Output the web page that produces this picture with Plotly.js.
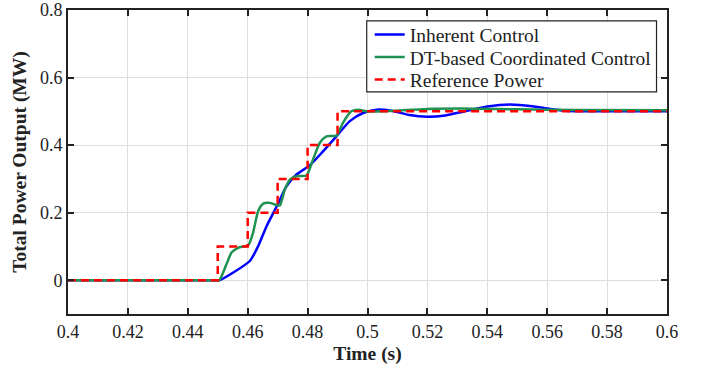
<!DOCTYPE html>
<html><head><meta charset="utf-8">
<script src="https://cdn.plot.ly/plotly-3.0.1.min.js"></script>
<style>html,body{margin:0;padding:0;background:#fff;}#chart{width:702px;height:371px;}</style>
</head><body><div id="chart"></div>
<script>
const inherentT = [0.4, 0.43, 0.449, 0.4505, 0.4552, 0.4607, 0.4635, 0.4663, 0.470, 0.473, 0.4763, 0.4807, 0.4852, 0.4896, 0.4941, 0.4985, 0.503, 0.508, 0.514, 0.52, 0.526, 0.532, 0.54, 0.5475, 0.555, 0.561, 0.567, 0.575, 0.585, 0.6];
const inherentP = [0, 0, 0, 0, 0.023, 0.057, 0.101, 0.160, 0.224, 0.279, 0.313, 0.340, 0.382, 0.426, 0.471, 0.495, 0.505, 0.502, 0.489, 0.484, 0.488, 0.499, 0.514, 0.520, 0.515, 0.507, 0.501, 0.5, 0.5, 0.5];
const dtT = [0.4, 0.43, 0.449, 0.4505, 0.4529, 0.4546, 0.4568, 0.4602, 0.4618, 0.4635, 0.4652, 0.4674, 0.4691, 0.4707, 0.4724, 0.4741, 0.4763, 0.4796, 0.4818, 0.4841, 0.4863, 0.4896, 0.4918, 0.4946, 0.4969, 0.4996, 0.505, 0.52, 0.535, 0.55, 0.57, 0.6];
const dtP = [0, 0, 0, 0, 0.047, 0.082, 0.096, 0.104, 0.141, 0.205, 0.227, 0.229, 0.224, 0.221, 0.269, 0.298, 0.308, 0.310, 0.357, 0.407, 0.426, 0.428, 0.466, 0.500, 0.505, 0.500, 0.500, 0.507, 0.508, 0.506, 0.504, 0.503];
const refT = [0.4, 0.45, 0.46, 0.47, 0.48, 0.49, 0.6];
const refP = [0, 0.1, 0.2, 0.3, 0.4, 0.5, 0.5];
const xTicks = [0.4, 0.42, 0.44, 0.46, 0.48, 0.5, 0.52, 0.54, 0.56, 0.58, 0.6];
const xTickText = ['0.4', '0.42', '0.44', '0.46', '0.48', '0.5', '0.52', '0.54', '0.56', '0.58', '0.6'];
const yTicks = [0, 0.2, 0.4, 0.6, 0.8];
const yTickText = ['0', '0.2', '0.4', '0.6', '0.8'];

const font = '"Liberation Serif", "Times New Roman", Times, serif';
const traces = [
  {x: inherentT, y: inherentP, type: 'scatter', mode: 'lines', name: 'Inherent Control', legend: 'legend',
   line: {color: '#0000ff', width: 2.5, shape: 'spline', smoothing: 0.6}},
  {x: dtT, y: dtP, type: 'scatter', mode: 'lines', name: 'DT-based Coordinated Control', legend: 'legend2',
   line: {color: '#1f9150', width: 2.5, shape: 'spline', smoothing: 0.6}},
  {x: refT, y: refP, type: 'scatter', mode: 'lines', name: 'Reference Power', legend: 'legend3',
   line: {color: '#ff0000', width: 2.5, shape: 'hv', dash: '8px,5px'}}
];
const axisCommon = {
  showline: true, mirror: 'ticks', linecolor: '#222', linewidth: 2,
  ticks: 'inside', ticklen: 6, tickwidth: 2, tickcolor: '#222',
  showgrid: true, gridcolor: '#dedede', gridwidth: 1, zeroline: false,
  tickfont: {family: font, size: 18, color: '#222'}
};
function leg(yc) {
  return {x: 0.5037, xanchor: 'left', y: yc, yanchor: 'middle',
    bgcolor: 'rgba(0,0,0,0)', borderwidth: 0,
    font: {family: font, size: 19.5, color: '#222'}};
}
const layout = {
  width: 702, height: 371,
  margin: {l: 68, r: 34.5, t: 10, b: 56.5},
  paper_bgcolor: '#fff', plot_bgcolor: '#fff',
  font: {family: font, color: '#222'},
  showlegend: true,
  legend: leg(0.918), legend2: leg(0.844), legend3: leg(0.770),
  shapes: [{type: 'rect', xref: 'paper', yref: 'paper', x0: 0.4987, x1: 0.9825, y0: 0.7307, y1: 0.9639,
    fillcolor: '#fff', line: {color: '#222', width: 1.2}, layer: 'above'}],
  xaxis: Object.assign({}, axisCommon, {
    range: [0.4, 0.6], tickmode: 'array', tickvals: xTicks, ticktext: xTickText,
    title: {text: '<b>Time (s)</b>', font: {family: font, size: 19.5, color: '#222'}, standoff: 6}
  }),
  yaxis: Object.assign({}, axisCommon, {
    range: [-0.1, 0.8], tickmode: 'array', tickvals: yTicks, ticktext: yTickText,
    title: {text: '<b>Total Power Output (MW)</b>', font: {family: font, size: 19.5, color: '#222'}, standoff: 8}
  })
};
Plotly.newPlot('chart', traces, layout, {displayModeBar: false, staticPlot: true});
</script></body></html>
